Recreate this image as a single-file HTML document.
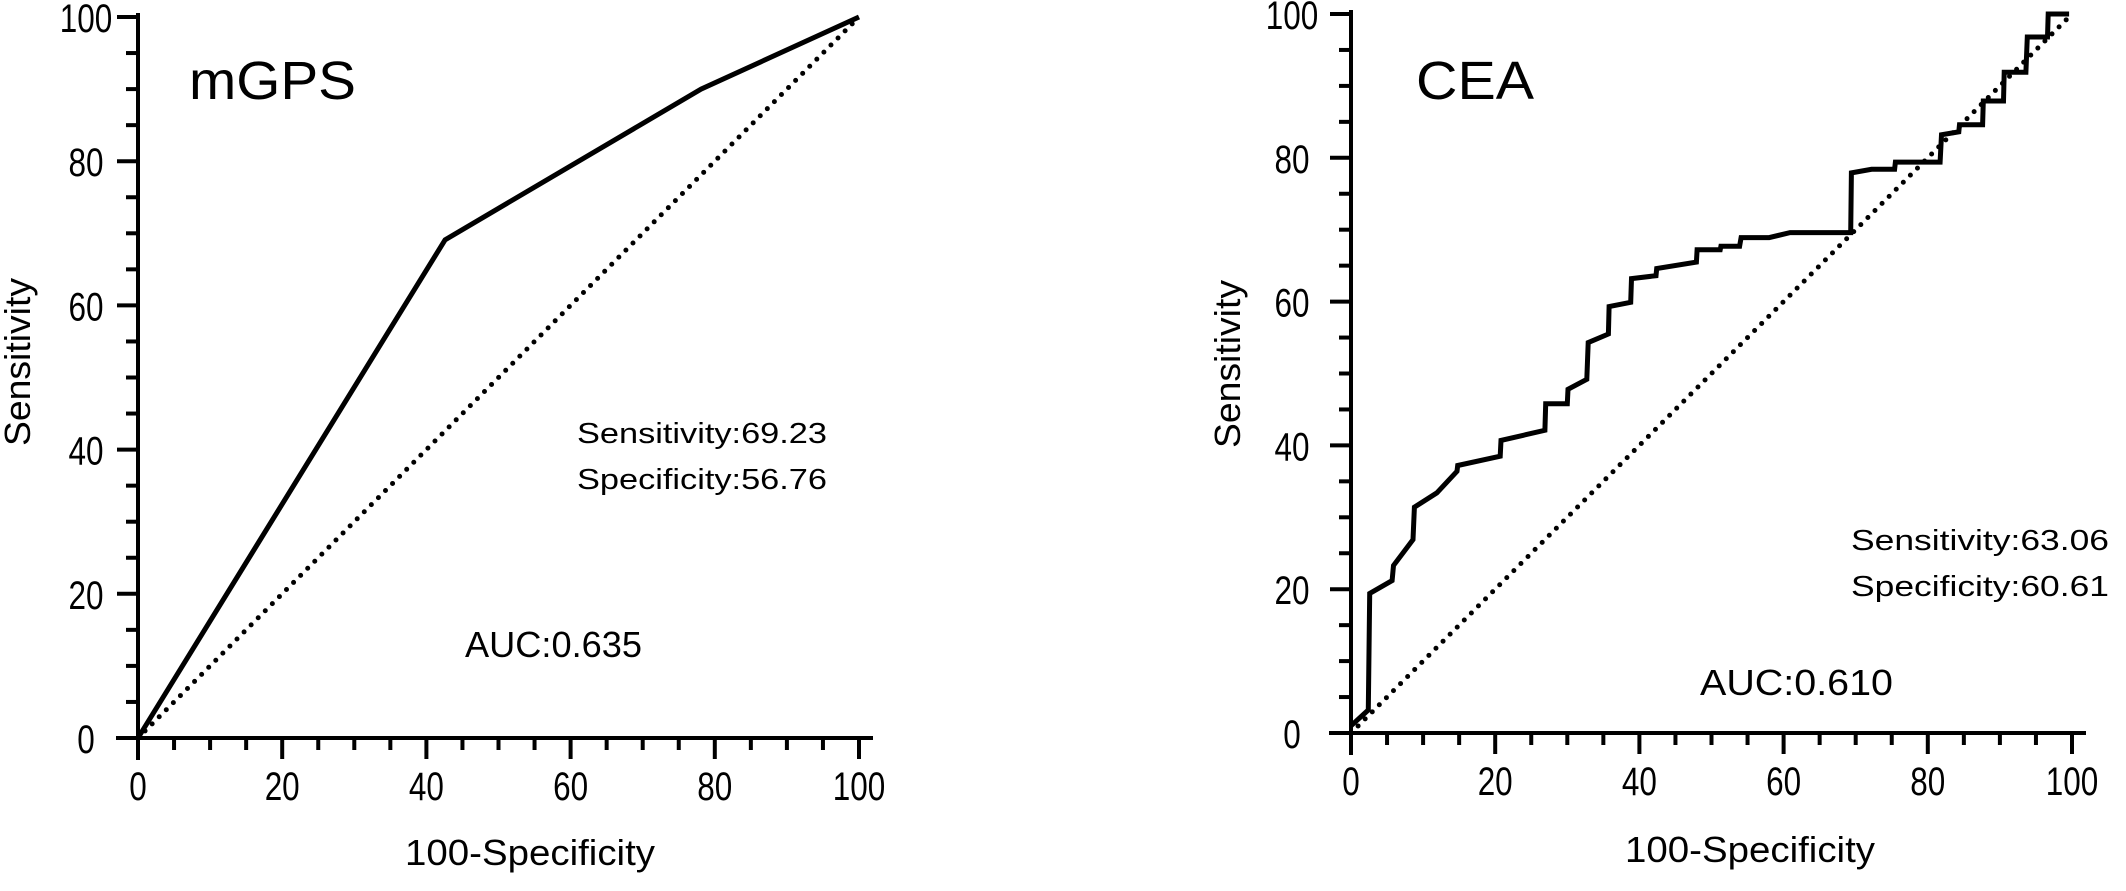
<!DOCTYPE html>
<html><head><meta charset="utf-8"><style>
html,body{margin:0;padding:0;background:#fff;}
svg{display:block;}
text{font-family:"Liberation Sans",Arial,sans-serif;fill:#000;}
</style></head><body>
<svg id="fig" width="2126" height="891" viewBox="0 0 2126 891" xmlns="http://www.w3.org/2000/svg"></svg>
<script>
const ticks = [0,20,40,60,80,100];
const tickLabels = ["0","20","40","60","80","100"];
const mgpsX = [0, 42.6, 78.1, 100];
const mgpsY = [0, 69.1, 90.0, 100];
const ceaX = [0,2.4,2.6,5.7,5.9,8.6,8.8,11.9,14.7,14.8,20.7,20.8,26.9,27.0,30.0,30.1,32.7,32.9,35.7,35.8,38.8,38.9,42.3,42.4,47.9,48.0,51.2,51.3,53.9,54.1,58.0,60.9,69.3,69.4,72.2,75.4,75.5,81.7,81.9,84.3,84.4,87.6,87.7,90.5,90.6,93.6,93.8,96.6,96.7,99.6];
const ceaY = [1,3.2,19.4,21.2,23.3,26.9,31.4,33.4,36.4,37.2,38.5,40.7,42.1,45.8,45.8,47.8,49.2,54.3,55.5,59.3,59.9,63.2,63.6,64.6,65.5,67.2,67.2,67.7,67.7,68.9,68.9,69.6,69.6,77.9,78.4,78.4,79.4,79.4,83.2,83.6,84.6,84.6,87.9,87.9,91.9,91.9,96.8,96.8,100,100];

const NS="http://www.w3.org/2000/svg";
const svg=document.getElementById('fig');
function mk(tag,attrs,parent){const e=document.createElementNS(NS,tag);for(const k in attrs)e.setAttribute(k,attrs[k]);(parent||svg).appendChild(e);return e;}

function panel(p){
  const g=mk('g',{});
  
  
  const sx=v=>p.x0+(p.x1-p.x0)*v/100;
  const sy=v=>p.y0-(p.y0-p.y1)*v/100;
  // axes
  const ya=mk('line',{x1:sx(0),y1:sy(100)-4,x2:sx(0),y2:p.y0+22,stroke:'#000','stroke-width':4},g);
  
  
  const xa=mk('line',{x1:sx(0)-22,y1:p.y0,x2:p.x1+14,y2:p.y0,stroke:'#000','stroke-width':4},g);
  
  
  for(let v=0;v<=100;v+=5){
    const major=v%20===0;
    const L=major?21:12;
    mk('line',{x1:sx(v),y1:p.y0,x2:sx(v),y2:p.y0+L,stroke:'#000','stroke-width':4},g);
    mk('line',{x1:sx(0),y1:sy(v),x2:sx(0)-L,y2:sy(v),stroke:'#000','stroke-width':4},g);
  }
  ticks.forEach((t,i)=>{
    const lab=tickLabels[i];
    const w=lab.length*17.5;
    const tx=mk('text',{x:sx(t),y:p.y0+62,'text-anchor':'middle','font-size':40,textLength:w,lengthAdjust:'spacingAndGlyphs'},g);
    tx.textContent=lab;
    
    
    const ty=mk('text',{x:p.ylabX,y:sy(t)+15,'text-anchor':'middle','font-size':40,textLength:w,lengthAdjust:'spacingAndGlyphs'},g);
    ty.textContent=lab;
    
    
  });
  const xt=mk('text',{x:p.xtX,y:p.xtY,'text-anchor':'middle','font-size':36,textLength:250,lengthAdjust:'spacingAndGlyphs'},g);
  xt.textContent='100-Specificity';
  
  
  const yt=mk('text',{x:0,y:0,'text-anchor':'middle','font-size':36,textLength:168,lengthAdjust:'spacingAndGlyphs',transform:`translate(${p.ytX},${p.ytY}) rotate(-90)`},g);
  yt.textContent='Sensitivity';
  
  
  // diagonal
  const dg=mk('line',{x1:sx(0),y1:sy(0),x2:sx(100),y2:sy(100),stroke:'#000','stroke-width':5,'stroke-dasharray':'0 10','stroke-linecap':'round'},g);
  
  
  // curve
  const pts=p.xs.map((x,i)=>sx(x).toFixed(1)+','+sy(p.ys[i]).toFixed(1)).join(' ');
  const cv=mk('polyline',{points:pts,fill:'none',stroke:'#000','stroke-width':5,'stroke-linejoin':'miter'},g);
  
  
  // texts
  const tt=mk('text',{x:p.titleX,y:99,'font-size':54,textLength:p.titleW,lengthAdjust:'spacingAndGlyphs'},g);
  tt.textContent=p.title;
  
  
  const s1=mk('text',{x:p.annX,y:p.annY,'font-size':29,textLength:p.annW,lengthAdjust:'spacingAndGlyphs'},g);
  s1.textContent=p.sens;
  
  
  const s2=mk('text',{x:p.annX,y:p.annY+46,'font-size':29,textLength:p.annW,lengthAdjust:'spacingAndGlyphs'},g);
  s2.textContent=p.spec;
  
  
  const au=mk('text',{x:p.aucX,y:p.aucY,'font-size':36,textLength:p.aucW,lengthAdjust:'spacingAndGlyphs'},g);
  au.textContent=p.auc;
  
  
}
panel({name:'mgps-roc-panel',x0:138,x1:859,y0:738,y1:17,xs:mgpsX,ys:mgpsY,ylabX:86,xtX:530,xtY:865,ytX:30,ytY:362,
  title:'mGPS',titleX:189,titleW:167,sens:'Sensitivity:69.23',spec:'Specificity:56.76',annX:577,annY:443,annW:250,
  auc:'AUC:0.635',aucX:465,aucY:657,aucW:177});
panel({name:'cea-roc-panel',x0:1351,x1:2072,y0:733,y1:14,xs:ceaX,ys:ceaY,ylabX:1292,xtX:1750,xtY:862,ytX:1240,ytY:364,
  title:'CEA',titleX:1416,titleW:118,sens:'Sensitivity:63.06',spec:'Specificity:60.61',annX:1851,annY:550,annW:258,
  auc:'AUC:0.610',aucX:1700,aucY:695,aucW:193});
</script>
</body></html>
